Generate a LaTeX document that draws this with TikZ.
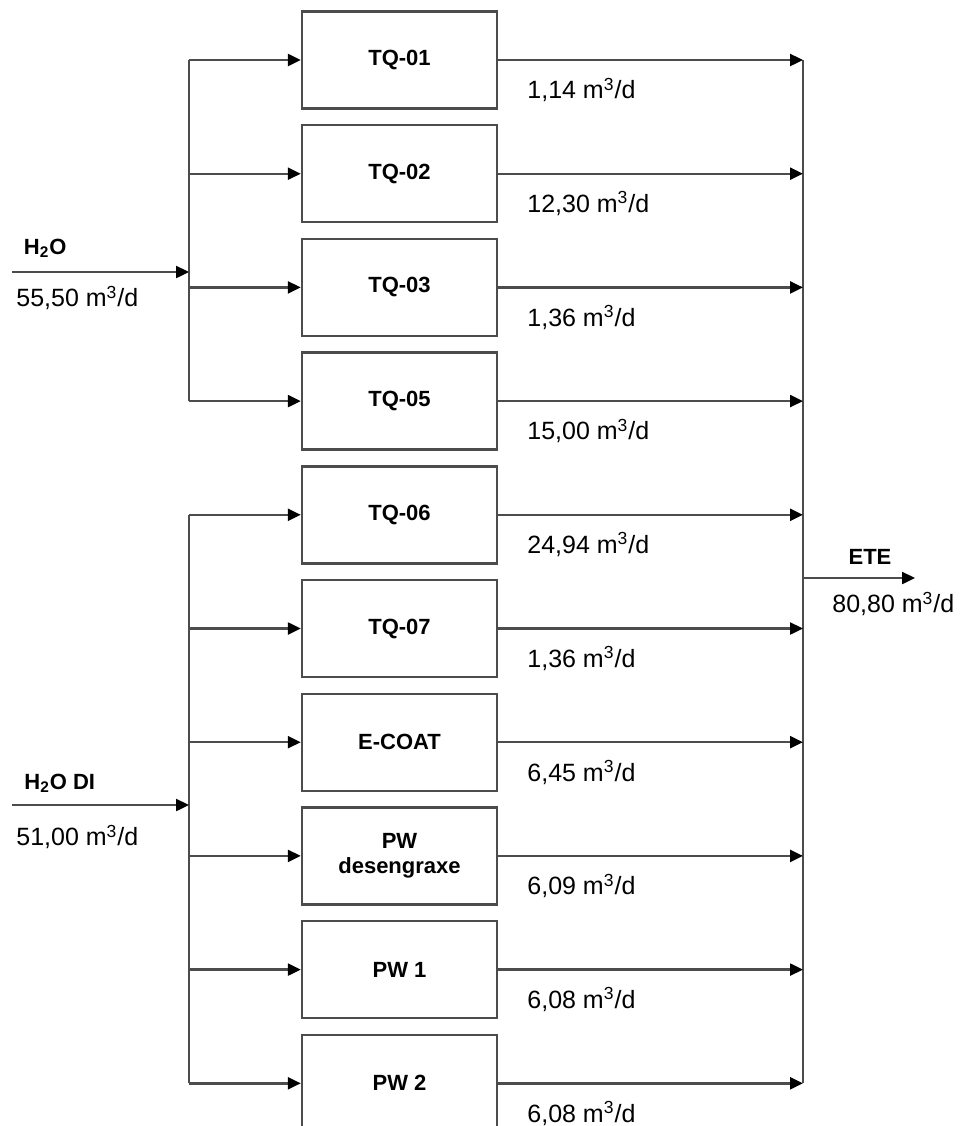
\documentclass[tikz,border=0pt]{standalone}
\usepackage{fontspec}
\setmainfont{Liberation Sans}
\usetikzlibrary{arrows.meta, positioning}

\tikzset{
  tank/.style={draw=black!70, line width=1.2pt, minimum width=97.5pt, minimum height=48.5pt,
    inner sep=1pt, align=center, font=\fontsize{11}{12.5}\selectfont\bfseries},
  flow/.style={draw=black!70, line width=1.2pt, -{Triangle[length=6.5pt,width=6pt,color=black]}},
  bus/.style={draw=black!70, line width=1.2pt},
  rate/.style={anchor=west, inner sep=0pt, font=\fontsize{12.5}{14}\selectfont},
  stream/.style={anchor=west, inner sep=0pt, font=\fontsize{11}{13}\selectfont\bfseries}
}

\begin{document}
\begin{tikzpicture}[x=0.5pt, y=-0.5pt]
\useasboundingbox (0,0) rectangle (962,1126);

% tanks and their outflows
\foreach \nm/\txt/\rt [count=\i from 0] in {tq01/TQ-01/{1,14}, tq02/TQ-02/{12,30},
    tq03/TQ-03/{1,36}, tq05/TQ-05/{15,00}, tq06/TQ-06/{24,94}, tq07/TQ-07/{1,36},
    ecoat/E-COAT/{6,45}, pwdes/{PW\\desengraxe}/{6,09}, pw1/PW 1/{6,08}, pw2/PW 2/{6,08}}
{
  \node[tank] (\nm) at (399.5, 60+113.7*\i) {\txt};
  \node[rate] (r\nm) at (527, 90+113.7*\i) {\rt{} m\textsuperscript{3}/d};
}

\coordinate (srcA) at (12,272);
\coordinate (inA) at (189,272);
\coordinate (srcB) at (12,805);
\coordinate (inB) at (189,805);
\coordinate (outC) at (803,578);
\coordinate (ete) at (915,578);

% headers
\draw[bus] (tq01.west -| inA) -- (tq05.west -| inA);
\draw[bus] (tq06.west -| inB) -- (pw2.west -| inB);
\draw[bus] (tq01.east -| outC) -- (pw2.east -| outC);

\foreach \nm in {tq01,tq02,tq03,tq05}
  \draw[flow] (\nm.west -| inA) -- (\nm.west);
\foreach \nm in {tq06,tq07,ecoat,pwdes,pw1,pw2}
  \draw[flow] (\nm.west -| inB) -- (\nm.west);
\foreach \nm in {tq01,tq02,tq03,tq05,tq06,tq07,ecoat,pwdes,pw1,pw2}
  \draw[flow] (\nm.east) -- (\nm.east -| outC);

\draw[flow] (srcA) -- (inA);
\draw[flow] (srcB) -- (inB);
\draw[flow] (outC) -- (ete);

% stream labels
\node[stream] (lh2o) at (23.5,248) {H\textsubscript{2}O};
\node[rate] (qh2o) at (16,298) {55,50 m\textsuperscript{3}/d};
\node[stream] (lh2odi) at (24,783) {H\textsubscript{2}O DI};
\node[rate] (qh2odi) at (16,837) {51,00 m\textsuperscript{3}/d};
\node[stream, anchor=center] (lete) at (870,557) {ETE};
\node[rate] (qete) at (832,604) {80,80 m\textsuperscript{3}/d};
\end{tikzpicture}
\end{document}
